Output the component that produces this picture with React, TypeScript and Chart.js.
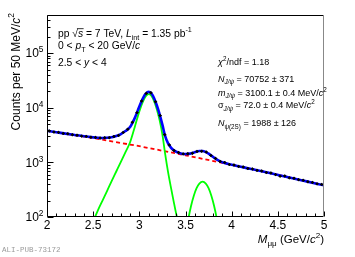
import React, { useEffect, useRef } from "react";
import { Chart, registerables } from "chart.js";

Chart.register(...registerables);

const FONT = '"Liberation Sans", Arial, Helvetica, sans-serif';

// ---- axis ticks ----
const xMajorTicks = [2, 2.5, 3, 3.5, 4, 4.5, 5];
const xTickLabels = ["2", "2.5", "3", "3.5", "4", "4.5", "5"];
const yDecades = [100, 1000, 10000, 100000];
const yDecadeExp = ["2", "3", "4", "5"];

// ---- data histogram (bin centres, counts per 50 MeV) ----
const binCenters = [
  2.025, 2.075, 2.125, 2.175, 2.225, 2.275, 2.325, 2.375, 2.425, 2.475,
  2.525, 2.575, 2.625, 2.675, 2.725, 2.775, 2.825, 2.875, 2.925, 2.975,
  3.025, 3.075, 3.125, 3.175, 3.225, 3.275, 3.325, 3.375, 3.425, 3.475,
  3.525, 3.575, 3.625, 3.675, 3.725, 3.775, 3.825, 3.875, 3.925, 3.975,
  4.025, 4.075, 4.125, 4.175, 4.225, 4.275, 4.325, 4.375, 4.425, 4.475,
  4.525, 4.575, 4.625, 4.675, 4.725, 4.775, 4.825, 4.875, 4.925, 4.975,
];
const counts = [
  3760, 3600, 3550, 3390, 3340, 3200, 3150, 3030, 2990, 2890,
  2870, 2790, 2830, 2830, 2980, 3120, 3540, 4050, 5420, 8150,
  13300, 18300, 18800, 12900, 7200, 3220, 2080, 1650, 1520, 1430,
  1445, 1470, 1590, 1600, 1545, 1340, 1185, 1040, 995, 915,
  895, 845, 825, 772, 757, 714, 697, 652, 640, 598,
  560, 565, 520, 512, 482, 470, 441, 430, 405, 395,
];

// ---- total fit (blue) ----
const fitX = [
  2.0, 2.1, 2.2, 2.3, 2.4, 2.5, 2.55, 2.6, 2.65, 2.7, 2.75, 2.8, 2.85, 2.9, 2.95,
  3.0, 3.04, 3.07, 3.1, 3.13, 3.16, 3.19, 3.22, 3.25, 3.28, 3.31, 3.34, 3.37, 3.4, 3.45,
  3.5, 3.55, 3.6, 3.65, 3.685, 3.72, 3.75, 3.8, 3.85, 3.9, 4.0, 4.2, 4.4, 4.6, 4.8, 5.0,
];
const fitY = [
  3804, 3577, 3365, 3179, 3008, 2876, 2829, 2804, 2817, 2884, 3031, 3301, 3743, 4463, 6466,
  10572, 15013, 18129, 19577, 18465, 14964, 11004, 7545, 4863, 3020, 2246, 1888, 1689, 1568, 1459,
  1423, 1447, 1530, 1614, 1614, 1544, 1444, 1254, 1102, 1004, 907, 764, 646, 542, 454, 380,
];

// ---- background (red dashed) ----
const bkgX = [2.0, 2.5, 3.0, 3.5, 4.0, 4.5, 5.0];
const bkgY = [3800, 2790, 1980, 1350, 904, 593, 380];

// ---- J/psi signal (green) ----
const jpsiX = [
  2.45, 2.5, 2.55, 2.6, 2.65, 2.7, 2.75, 2.8, 2.85, 2.9, 2.95, 3.0, 3.04,
  3.07, 3.1, 3.13, 3.16, 3.19, 3.22, 3.25, 3.28, 3.31, 3.34, 3.37, 3.4, 3.45,
];
const jpsiY = [
  54, 83, 131, 198, 299, 452, 681, 1026, 1545, 2340, 4415, 8590, 13090,
  16250, 17740, 16670, 13210, 9290, 5870, 3230, 1420, 686, 364, 200, 113, 56,
];

// ---- psi(2S) signal (green) ----
const psiX = [3.5, 3.53, 3.56, 3.59, 3.62, 3.65, 3.685, 3.72, 3.75, 3.78, 3.81, 3.84, 3.87];
const psiY = [46, 91, 159, 245, 337, 410, 445, 410, 337, 245, 159, 91, 46];

// ---- text ----
type Run = { t: string; i?: boolean; sub?: boolean; sup?: boolean; over?: boolean };
const legendLeft: Run[][] = [
  [{ t: "pp " }, { t: "\u221A" }, { t: "s", i: true, over: true }, { t: " = 7 TeV, " }, { t: "L", i: true }, { t: "int", sub: true }, { t: " = 1.35 pb" }, { t: "-1", sup: true }],
  [{ t: "0 < " }, { t: "p", i: true }, { t: "T", sub: true }, { t: " < 20 GeV/" }, { t: "c", i: true }],
  [{ t: "2.5 < " }, { t: "y", i: true }, { t: " < 4" }],
];
const legendRight: Run[][] = [
  [{ t: "\u03C7", i: true }, { t: "2", sup: true }, { t: "/ndf = 1.18" }],
  [{ t: "N", i: true }, { t: "J/\u03C8", sub: true, i: true }, { t: " = 70752 \u00B1 371" }],
  [{ t: "m", i: true }, { t: "J/\u03C8", sub: true, i: true }, { t: " = 3100.1 \u00B1 0.4 MeV/" }, { t: "c", i: true }, { t: "2", sup: true }],
  [{ t: "\u03C3" }, { t: "J/\u03C8", sub: true, i: true }, { t: " = 72.0 \u00B1 0.4 MeV/" }, { t: "c", i: true }, { t: "2", sup: true }],
  [{ t: "N", i: true }, { t: "\u03C8(2S)", sub: true }, { t: " = 1988 \u00B1 126" }],
];
const xTitle: Run[] = [{ t: "M", i: true }, { t: "\u03BC\u03BC", sub: true }, { t: " (GeV/" }, { t: "c", i: true }, { t: "2", sup: true }, { t: ")" }];
const yTitle: Run[] = [{ t: "Counts per 50 MeV/" }, { t: "c", i: true }, { t: "2", sup: true }];
const watermark = "ALI-PUB-73172";

function runFont(r: Run, size: number) {
  const s = r.sub || r.sup ? size * 0.7 : size;
  return `${r.i ? "italic " : ""}${s}px ${FONT}`;
}
function richWidth(ctx: CanvasRenderingContext2D, runs: Run[], size: number) {
  let w = 0;
  for (const r of runs) {
    ctx.font = runFont(r, size);
    w += ctx.measureText(r.t).width;
  }
  return w;
}
function drawRich(ctx: CanvasRenderingContext2D, x: number, y: number, runs: Run[], size: number, align: "left" | "right" = "left") {
  let cx = align === "right" ? x - richWidth(ctx, runs, size) : x;
  ctx.textAlign = "left";
  ctx.textBaseline = "alphabetic";
  for (const r of runs) {
    ctx.font = runFont(r, size);
    const dy = r.sub ? size * 0.3 : r.sup ? -size * 0.42 : 0;
    ctx.fillText(r.t, cx, y + dy);
    const w = ctx.measureText(r.t).width;
    if (r.over) {
      ctx.beginPath();
      ctx.lineWidth = 0.8;
      ctx.moveTo(cx - 1, y - size * 0.78);
      ctx.lineTo(cx + w + 0.5, y - size * 0.78);
      ctx.stroke();
    }
    cx += w;
  }
}

const decorPlugin = {
  id: "decor",
  afterDatasetsDraw(chart: any) {
    const ctx: CanvasRenderingContext2D = chart.ctx;
    const xs = chart.scales.x;
    const ys = chart.scales.y;
    ctx.save();
    ctx.strokeStyle = "#000";
    ctx.lineWidth = 1;
    for (let i = 0; i < binCenters.length; i++) {
      const px = xs.getPixelForValue(binCenters[i]);
      const py = ys.getPixelForValue(counts[i]);
      const hw = xs.getPixelForValue(binCenters[i] + 0.018) - px;
      const e = Math.sqrt(counts[i]);
      const yTop = Math.min(ys.getPixelForValue(counts[i] + e), py - 1.5);
      const yBot = Math.max(ys.getPixelForValue(counts[i] - e), py + 1.5);
      ctx.beginPath();
      ctx.moveTo(px - hw, py);
      ctx.lineTo(px + hw, py);
      ctx.moveTo(px, yTop);
      ctx.lineTo(px, yBot);
      ctx.stroke();
    }
    ctx.restore();
  },
  afterDraw(chart: any) {
    const ctx: CanvasRenderingContext2D = chart.ctx;
    const xs = chart.scales.x;
    const ys = chart.scales.y;
    const { left, right, top, bottom } = chart.chartArea;
    const L = Math.round(left) + 0.5;
    const R = Math.round(right) - 0.5;
    const T = Math.round(top) + 0.5;
    const B = Math.round(bottom) - 0.5;
    ctx.save();
    // frame
    ctx.lineWidth = 1;
    ctx.strokeStyle = "#000";
    ctx.beginPath();
    ctx.moveTo(R, T);
    ctx.lineTo(L, T);
    ctx.lineTo(L, B);
    ctx.lineTo(R, B);
    ctx.stroke();
    ctx.strokeStyle = "#888";
    ctx.beginPath();
    ctx.moveTo(R, T);
    ctx.lineTo(R, B);
    ctx.stroke();
    // x ticks
    ctx.strokeStyle = "#000";
    ctx.beginPath();
    for (let k = 0; k <= 30; k++) {
      const v = 2 + k * 0.1;
      const px = Math.round(xs.getPixelForValue(v)) + 0.5;
      const len = k % 5 === 0 ? 5 : 3;
      ctx.moveTo(px, B);
      ctx.lineTo(px, B - len);
    }
    // y ticks
    for (const d of yDecades) {
      for (let m = 1; m <= 9; m++) {
        const v = d * m;
        if (v > ys.max) break;
        const py = Math.round(ys.getPixelForValue(v)) + 0.5;
        const len = m === 1 ? 6 : 3;
        ctx.moveTo(L, py);
        ctx.lineTo(L + len, py);
      }
    }
    ctx.stroke();
    // y tick labels
    ctx.fillStyle = "#000";
    yDecades.forEach((v, i) => {
      const py = ys.getPixelForValue(v);
      drawRich(ctx, left - 3.5, py + 4.3, [{ t: "10" }, { t: yDecadeExp[i], sup: true }], 12, "right");
    });
    // legends
    const lb = [36.7, 49.3, 66];
    legendLeft.forEach((runs, i) => drawRich(ctx, 58, lb[i], runs, 10.3));
    const rb = [65, 81.5, 95.5, 108, 126];
    legendRight.forEach((runs, i) => drawRich(ctx, 218, rb[i], runs, 9));
    // axis titles
    drawRich(ctx, right, 243, xTitle, 11.5, "right");
    ctx.save();
    ctx.translate(19.5, 13);
    ctx.rotate(-Math.PI / 2);
    drawRich(ctx, 0, 0, yTitle, 12, "right");
    ctx.restore();
    // watermark
    ctx.fillStyle = "#9a9a9a";
    ctx.font = `7.5px "Liberation Mono", "DejaVu Sans Mono", monospace`;
    ctx.textAlign = "left";
    ctx.textBaseline = "alphabetic";
    ctx.fillText(watermark, 2, 252);
    ctx.restore();
  },
};

function pts(xs: number[], ys: number[]) {
  return xs.map((x, i) => ({ x, y: ys[i] }));
}

export default function App() {
  const ref = useRef<HTMLCanvasElement>(null);
  useEffect(() => {
    if (!ref.current) return;
    const chart = new Chart(ref.current, {
      type: "line",
      data: {
        datasets: [
          {
            label: "data",
            data: pts(binCenters, counts),
            showLine: false,
            pointRadius: 1.2,
            pointBorderWidth: 0,
            pointBackgroundColor: "#000",
            order: 0,
          },
          {
            label: "fit",
            data: pts(fitX, fitY),
            borderColor: "#0000ff",
            borderWidth: 2.6,
            pointRadius: 0,
            cubicInterpolationMode: "monotone",
            order: 1,
          },
          {
            label: "J/psi",
            data: pts(jpsiX, jpsiY),
            borderColor: "#00ff00",
            borderWidth: 1.8,
            pointRadius: 0,
            cubicInterpolationMode: "monotone",
            order: 2,
          },
          {
            label: "psi(2S)",
            data: pts(psiX, psiY),
            borderColor: "#00ff00",
            borderWidth: 1.8,
            pointRadius: 0,
            cubicInterpolationMode: "monotone",
            order: 2,
          },
          {
            label: "background",
            data: pts(bkgX, bkgY),
            borderColor: "#ff0000",
            borderWidth: 1.8,
            borderDash: [4, 3],
            pointRadius: 0,
            order: 3,
          },
        ],
      },
      options: {
        responsive: false,
        animation: false,
        events: [],
        layout: { padding: { top: 15, right: 31, left: 0, bottom: 0 } },
        plugins: { legend: { display: false }, tooltip: { enabled: false }, title: { display: false } },
        scales: {
          x: {
            type: "linear",
            min: 2,
            max: 5,
            grid: { display: false, drawTicks: false },
            border: { display: false },
            ticks: {
              color: "#000",
              font: { size: 12, family: FONT },
              padding: 1,
              autoSkip: false,
              maxRotation: 0,
              callback: (v: any) => {
                const i = xMajorTicks.indexOf(Number(v));
                return i >= 0 ? xTickLabels[i] : "";
              },
            },
            afterBuildTicks: (s: any) => {
              s.ticks = xMajorTicks.map((v) => ({ value: v }));
            },
            afterFit: (s: any) => {
              s.height = 40;
            },
          },
          y: {
            type: "logarithmic",
            min: 100,
            max: 500000,
            grid: { display: false, drawTicks: false },
            border: { display: false },
            ticks: { display: false },
            afterBuildTicks: (s: any) => {
              s.ticks = yDecades.map((v) => ({ value: v }));
            },
            afterFit: (s: any) => {
              s.width = 47;
            },
          },
        },
      },
      plugins: [decorPlugin],
    } as any);
    return () => chart.destroy();
  }, []);
  return (
    <div style={{ position: "fixed", left: 0, top: 0, width: 355, height: 257, background: "#fff" }}>
      <canvas ref={ref} width={355} height={257} style={{ display: "block", width: 355, height: 257 }} />
    </div>
  );
}
